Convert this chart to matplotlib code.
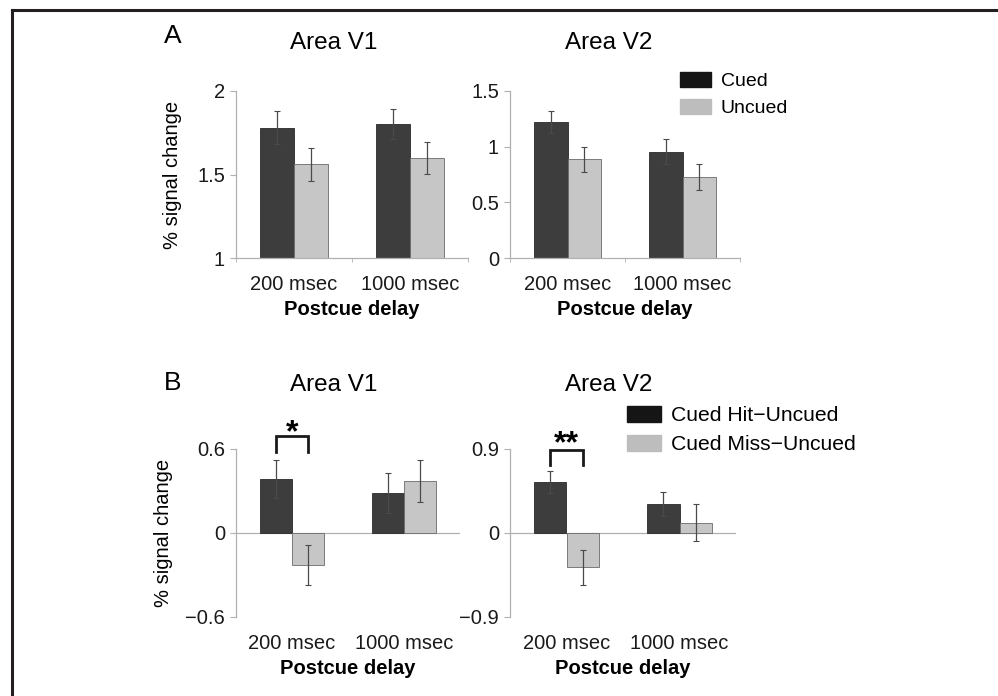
import matplotlib.pyplot as plt
from matplotlib.lines import Line2D
from matplotlib.patches import Patch
import numpy as np

plt.rcParams["font.family"] = ["Liberation Sans", "DejaVu Sans"]

W, H = 998, 696

delays = ["200 msec", "1000 msec"]

# panel A: % signal change
a_v1_cued = [1.78, 1.80]
a_v1_cued_err = [0.10, 0.09]
a_v1_uncued = [1.56, 1.60]
a_v1_uncued_err = [0.10, 0.095]
a_v2_cued = [1.22, 0.955]
a_v2_cued_err = [0.10, 0.11]
a_v2_uncued = [0.885, 0.727]
a_v2_uncued_err = [0.11, 0.115]

# panel B: differences
b_v1_hit = [0.386, 0.286]
b_v1_hit_err = [0.135, 0.14]
b_v1_miss = [-0.229, 0.37]
b_v1_miss_err = [0.14, 0.15]
b_v2_hit = [0.546, 0.312]
b_v2_hit_err = [0.115, 0.125]
b_v2_miss = [-0.369, 0.11]
b_v2_miss_err = [0.19, 0.20]

DARK = "#3d3d3d"
LIGHT = "#c6c6c6"
AXIS_GRAY = "#b0b0b0"
BAR_W = 0.29


def px_rect(x0, x1, y0, y1):
    return [x0 / W, 1 - y1 / H, (x1 - x0) / W, (y1 - y0) / H]


def draw_panel(ax, dark, dark_err, light, light_err, ylim, yticks, ylabels, zero_line):
    x = np.arange(len(delays)) + 0.5
    ax.bar(x - BAR_W / 2, dark, BAR_W, color=DARK, edgecolor="#2a2a2a", linewidth=0.6, zorder=2)
    ax.bar(x + BAR_W / 2, light, BAR_W, color=LIGHT, edgecolor="#6a6a6a", linewidth=0.6, zorder=2)
    ekw = dict(fmt="none", ecolor="#4a4a4a", elinewidth=0.9, capsize=2.5, capthick=0.8, zorder=3)
    ax.errorbar(x - BAR_W / 2, dark, yerr=dark_err, **ekw)
    ax.errorbar(x + BAR_W / 2, light, yerr=light_err, **ekw)

    ax.set_xlim(0, 2)
    ax.set_ylim(*ylim)
    ax.set_yticks(yticks)
    ax.set_yticklabels(ylabels)
    ax.set_xticks(x)
    ax.set_xticklabels(delays)
    for s in ["top", "right"]:
        ax.spines[s].set_visible(False)
    ax.spines["left"].set_color(AXIS_GRAY)
    ax.spines["left"].set_linewidth(0.9)
    ax.tick_params(axis="y", direction="out", length=4, color=AXIS_GRAY,
                   labelsize=14.5, labelcolor="#1a1a1a", pad=4)
    ax.tick_params(axis="x", which="major", length=0, labelsize=14.5,
                   labelcolor="#1a1a1a", pad=12.5)
    if zero_line:
        ax.spines["bottom"].set_visible(False)
        ax.axhline(0, color=AXIS_GRAY, linewidth=0.9, zorder=1)
    else:
        ax.spines["bottom"].set_color(AXIS_GRAY)
        ax.spines["bottom"].set_linewidth(0.9)
        ax.set_xticks([0, 1, 2], minor=True)
        ax.tick_params(axis="x", which="minor", direction="out", length=3, color=AXIS_GRAY)
    ax.set_xlabel("Postcue delay", fontsize=14.5, fontweight="bold", labelpad=4)
    ax.set_facecolor("none")


def bracket(ax, x_center, top, leg, stars, star_y):
    xl = x_center - BAR_W / 2
    xr = x_center + BAR_W / 2
    ax.plot([xl, xl, xr, xr], [leg, top, top, leg], color="#1a1a1a",
            linewidth=2.0, clip_on=False, solid_joinstyle="miter", zorder=4)
    ax.text(x_center, star_y, stars, ha="center", va="center", fontsize=23,
            fontweight="bold", clip_on=False)


fig = plt.figure(figsize=(W / 100, H / 100), dpi=100)

ax_a1 = fig.add_axes(px_rect(236, 468, 91, 258))
ax_a2 = fig.add_axes(px_rect(510, 740, 91, 258))
ax_b1 = fig.add_axes(px_rect(236, 460, 449, 617))
ax_b2 = fig.add_axes(px_rect(510, 736, 449, 617))

draw_panel(ax_a1, a_v1_cued, a_v1_cued_err, a_v1_uncued, a_v1_uncued_err,
           (1, 2), [1, 1.5, 2], ["1", "1.5", "2"], False)
draw_panel(ax_a2, a_v2_cued, a_v2_cued_err, a_v2_uncued, a_v2_uncued_err,
           (0, 1.5), [0, 0.5, 1, 1.5], ["0", "0.5", "1", "1.5"], False)
draw_panel(ax_b1, b_v1_hit, b_v1_hit_err, b_v1_miss, b_v1_miss_err,
           (-0.6, 0.6), [-0.6, 0, 0.6], ["\u22120.6", "0", "0.6"], True)
draw_panel(ax_b2, b_v2_hit, b_v2_hit_err, b_v2_miss, b_v2_miss_err,
           (-0.9, 0.9), [-0.9, 0, 0.9], ["\u22120.9", "0", "0.9"], True)

for ax in (ax_a1, ax_b1):
    ax.set_ylabel("% signal change", fontsize=14.5)
ax_a1.yaxis.set_label_coords((182 - 236) / 232, 0.5)
ax_b1.yaxis.set_label_coords((173 - 236) / 224, 0.5)

bracket(ax_b1, 0.5, 0.69, 0.58, "*", 0.715)
bracket(ax_b2, 0.5, 0.886, 0.73, "**", 0.955)

# titles and panel letters
for xp, yp, txt in [(334, 43, "Area V1"), (609, 43, "Area V2"),
                    (334, 385, "Area V1"), (609, 385, "Area V2")]:
    fig.text(xp / W, 1 - yp / H, txt, ha="center", va="center", fontsize=17.5)
for yp, txt in [(36, "A"), (383, "B")]:
    fig.text(173 / W, 1 - yp / H, txt, ha="center", va="center", fontsize=19)

# legends
leg_kw = dict(frameon=False, handlelength=1.6, handleheight=0.8,
              handletextpad=0.5, borderpad=0, borderaxespad=0,
              loc="upper left")
fig.legend([Patch(color="#151515"), Patch(color="#bdbdbd")], ["Cued", "Uncued"],
           bbox_to_anchor=(680 / W, 1 - 72 / H), fontsize=14, labelspacing=0.45,
           **leg_kw)
fig.legend([Patch(color="#151515"), Patch(color="#bdbdbd")],
           ["Cued Hit\u2212Uncued", "Cued Miss\u2212Uncued"],
           bbox_to_anchor=(627 / W, 1 - 406 / H), fontsize=15.2, labelspacing=0.45,
           **leg_kw)

# cropped frame: only left and top edges visible
fig.add_artist(Line2D([12 / W, 12 / W], [0, 1 - 10 / H], color="#231f20", linewidth=2.2))
fig.add_artist(Line2D([12 / W, 1], [1 - 10 / H, 1 - 10 / H], color="#231f20", linewidth=2.2))

fig.savefig("out.png", dpi=100)
